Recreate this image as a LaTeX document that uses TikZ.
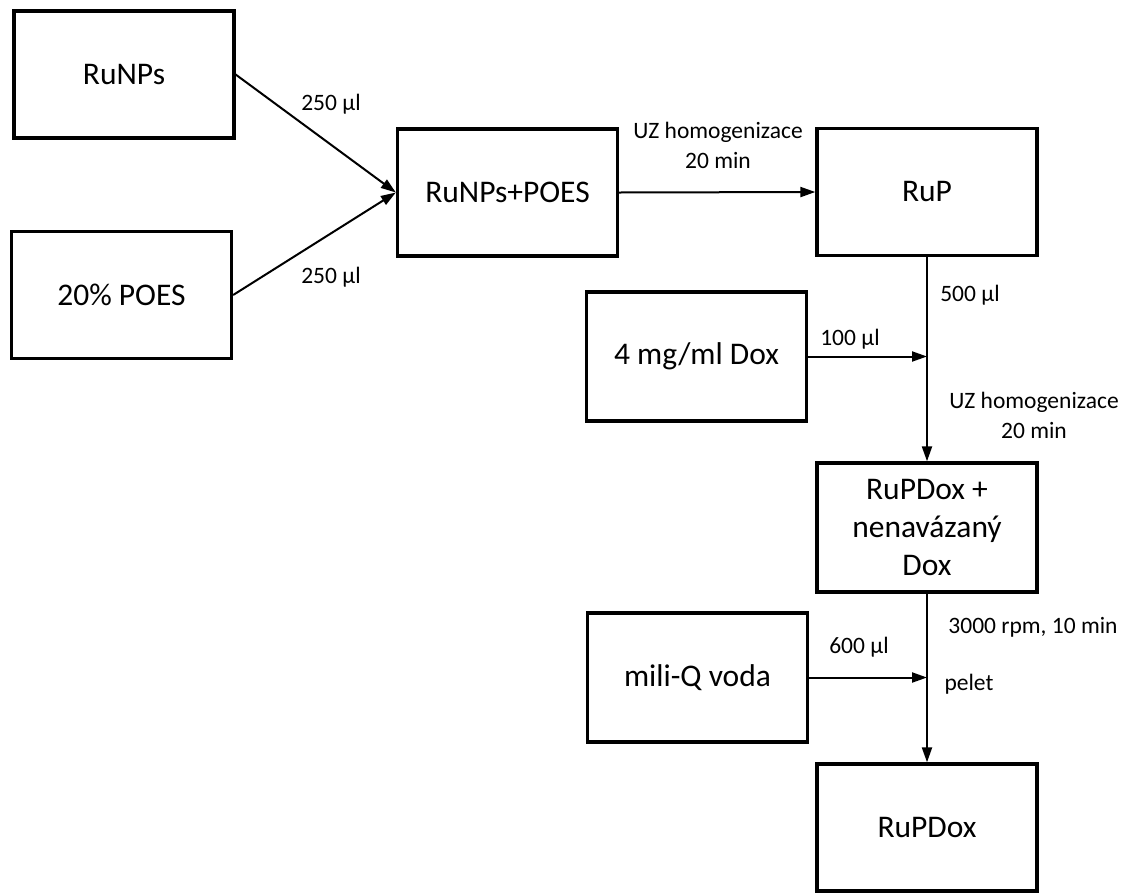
\documentclass[tikz,border=0pt]{standalone}
\usepackage{fontspec}
\setmainfont{Carlito}
\usetikzlibrary{arrows.meta}

\tikzset{
  stagebox/.style={draw, line width=3.3pt, minimum width=220pt, minimum height=127pt,
    inner sep=0pt, align=center, font=\fontsize{31.5}{38}\selectfont},
  flow/.style={line width=2pt, -{Triangle[length=15pt,width=10pt]}},
  note/.style={inner sep=0pt, align=center, font=\fontsize{23.5}{30}\selectfont}
}

\begin{document}
\begin{tikzpicture}[x=1pt, y=-1pt]
  \useasboundingbox (0,0) rectangle (1133,892);

  % process stages
  \node[stagebox] (runps) at (124,74.5) {RuNPs};
  \node[stagebox] (poes)  at (121.5,295) {20\% POES};
  \node[stagebox] (mix)   at (507.5,192.5) {RuNPs+POES};
  \node[stagebox] (rup)   at (927,192) {RuP};
  \node[stagebox, minimum height=129pt] (dox) at (696.5,356.5) {4 mg/ml Dox};
  \node[stagebox, minimum height=129pt] (rupdoxmix) at (927,527.5) {RuPDox +\\nenavázaný\\Dox};
  \node[stagebox, minimum height=129pt] (water) at (697.5,677.5) {mili-Q voda};
  \node[stagebox] (rupdox) at (927,827.5) {RuPDox};

  % points where side inputs join the main line
  \coordinate (joindox) at (rup.south |- dox.east);
  \coordinate (joinwater) at (rupdoxmix.south |- water.east);

  % connectors
  \draw[flow] (runps.east) -- (mix.west);
  \draw[flow] (poes.east) -- (mix.west);
  \draw[flow] (mix.east) -- (rup.west);
  \draw[flow] (rup.south) -- (rupdoxmix.north);
  \draw[flow] (dox.east) -- (joindox);
  \draw[flow] (rupdoxmix.south) -- (rupdox.north);
  \draw[flow] (water.east) -- (joinwater);

  % connector labels
  \node[note] (l1) at (331,104) {250 µl};
  \node[note] (l2) at (331,277) {250 µl};
  \node[note] (l3) at (718,145) {UZ homogenizace\\20 min};
  \node[note] (l4) at (970,295) {500 µl};
  \node[note] (l5) at (850,339) {100 µl};
  \node[note] (l6) at (1034,415) {UZ homogenizace\\20 min};
  \node[note] (l7) at (1033,627) {3000 rpm, 10 min};
  \node[note] (l8) at (859,647) {600 µl};
  \node[note] (l9) at (969,684) {pelet};
\end{tikzpicture}
\end{document}
